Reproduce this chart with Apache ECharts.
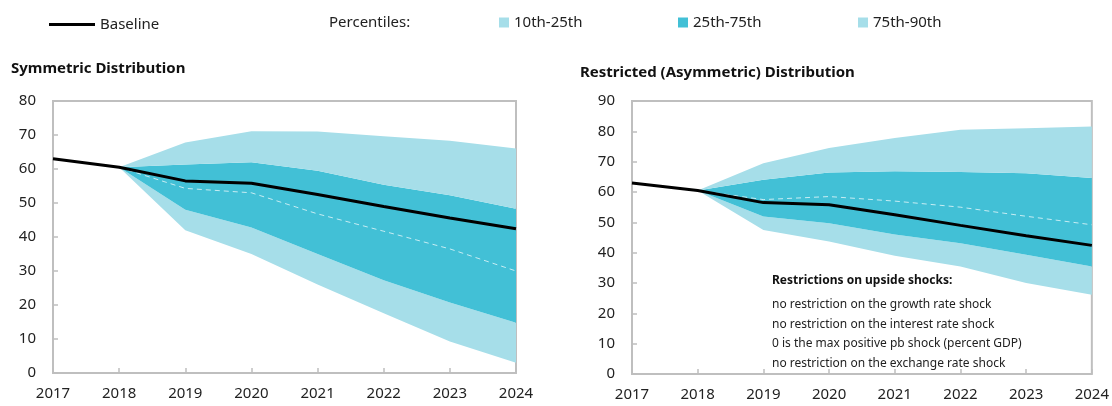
<!DOCTYPE html>
<html>
<head>
<meta charset="utf-8">
<script src="https://cdn.jsdelivr.net/npm/echarts@6/dist/echarts.min.js"></script>
<style>
  html, body { margin: 0; padding: 0; background: #fff; }
  #chart { width: 1112px; height: 406px; }
</style>
</head>
<body>
<div id="chart"></div>
<script>
// data
const years = ['2017', '2018', '2019', '2020', '2021', '2022', '2023', '2024'];
const baseline = [63, 60.5, 56.5, 55.8, 52.5, 49, 45.6, 42.4];

// symmetric distribution percentiles
const symP10 = ['-', 60.5, 42, 35, 26, 17.6, 9.3, 3];
const symP25 = ['-', 60.5, 48, 42.8, 35, 27.3, 20.7, 14.8];
const symP50 = ['-', 60.5, 54.3, 53, 46.8, 41.7, 36.5, 30];
const symP75 = ['-', 60.5, 61.3, 62, 59.5, 55.4, 52.3, 48.3];
const symP90 = ['-', 60.5, 67.8, 71.1, 71, 69.6, 68.3, 66];

// restricted (asymmetric) distribution percentiles
const resP10 = ['-', 60.5, 47.5, 43.7, 39, 35.4, 30, 26.1];
const resP25 = ['-', 60.5, 51.9, 49.7, 46, 43.1, 39.3, 35.4];
const resP50 = ['-', 60.5, 57.5, 58.5, 57, 55, 52, 49.2];
const resP75 = ['-', 60.5, 64, 66.4, 66.8, 66.6, 66.2, 64.6];
const resP90 = ['-', 60.5, 69.5, 74.5, 77.8, 80.5, 81, 81.6];

const symTicks = [0, 80, 10];
const resTicks = [0, 90, 10];

const restrictionTitle = 'Restrictions on upside shocks:';
const restrictionLines = [
  'no restriction on the growth rate shock',
  'no restriction on the interest rate shock',
  '0 is the max positive pb shock (percent GDP)',
  'no restriction on the exchange rate shock'
];

const LIGHT = '#a6dee9';
const DARK = '#42c0d6';
const FONT = 'Noto Sans';

const diff = (hi, lo) => hi.map((v, i) => (v === '-' || lo[i] === '-') ? '-' : +(v - lo[i]).toFixed(2));

const band = (name, data, idx, stack, color) => ({
  name: name,
  type: 'line',
  xAxisIndex: idx,
  yAxisIndex: idx,
  stack: stack,
  data: data,
  symbol: 'none',
  silent: true,
  itemStyle: { color: color },
  lineStyle: { width: 0 },
  areaStyle: color ? { color: color, opacity: 1 } : undefined
});

const panelSeries = (idx, p10, p25, p50, p75, p90) => [
  band('p10' + idx, p10, idx, 's' + idx, null),
  band('10th-25th', diff(p25, p10), idx, 's' + idx, LIGHT),
  band('25th-75th', diff(p75, p25), idx, 's' + idx, DARK),
  band('75th-90th', diff(p90, p75), idx, 's' + idx, LIGHT),
  {
    name: 'median' + idx,
    type: 'line',
    xAxisIndex: idx,
    yAxisIndex: idx,
    data: p50,
    symbol: 'none',
    silent: true,
    lineStyle: { color: '#ffffff', width: 1, type: [5, 4], opacity: 0.7 }
  },
  {
    name: 'Baseline',
    type: 'line',
    xAxisIndex: idx,
    yAxisIndex: idx,
    data: baseline,
    symbol: 'none',
    itemStyle: { color: '#000' },
    lineStyle: { color: '#000', width: 3 }
  }
];

const xAxis = (idx) => ({
  type: 'category',
  gridIndex: idx,
  data: years,
  boundaryGap: false,
  axisLine: { show: false },
  axisTick: { show: true, inside: true, length: 5, lineStyle: { color: '#bfbfbf', width: 1.5 } },
  axisLabel: { color: '#222', fontFamily: FONT, fontSize: 15, margin: 13 },
  splitLine: { show: false }
});

const yAxis = (idx, t) => ({
  type: 'value',
  gridIndex: idx,
  min: t[0],
  max: t[1],
  interval: t[2],
  axisLine: { show: false },
  axisTick: { show: true, inside: true, length: 5, lineStyle: { color: '#bfbfbf', width: 1.5 } },
  axisLabel: { color: '#222', fontFamily: FONT, fontSize: 15, margin: 17 },
  splitLine: { show: false }
});

const legendText = { color: '#222', fontFamily: FONT, fontSize: 15 };

const chart = echarts.init(document.getElementById('chart'));
chart.setOption({
  animation: false,
  backgroundColor: '#fff',
  title: [
    { text: 'Symmetric Distribution', left: 6, top: 56,
      textStyle: { fontFamily: FONT, fontSize: 15, fontWeight: 'bold', color: '#111' } },
    { text: 'Restricted (Asymmetric) Distribution', left: 575, top: 60,
      textStyle: { fontFamily: FONT, fontSize: 15, fontWeight: 'bold', color: '#111' } }
  ],
  legend: [
    { data: [{ name: 'Baseline', icon: 'rect' }], left: 44, top: 12, itemWidth: 46, itemHeight: 3, itemGap: 6,
      textStyle: legendText, selectedMode: false },
    { data: [{ name: '10th-25th', icon: 'rect' }], left: 494, top: 10, itemWidth: 10, itemHeight: 10,
      textStyle: legendText, selectedMode: false },
    { data: [{ name: '25th-75th', icon: 'rect' }], left: 673, top: 10, itemWidth: 10, itemHeight: 10,
      textStyle: legendText, selectedMode: false },
    { data: [{ name: '75th-90th', icon: 'rect' }], left: 853, top: 10, itemWidth: 10, itemHeight: 10,
      textStyle: legendText, selectedMode: false }
  ],
  graphic: [
    { type: 'text', left: 329, top: 15,
      style: { text: 'Percentiles:', fill: '#222', font: '15px "Noto Sans"' } },
    { type: 'text', left: 772, top: 275,
      style: { text: restrictionTitle, fill: '#111', font: 'bold 12px "Noto Sans"' } },
    { type: 'text', left: 772, top: 295,
      style: { text: restrictionLines.join('\n'), fill: '#222', font: '12px "Noto Sans"', lineHeight: 19.5 } }
  ],
  grid: [
    { left: 53, top: 101, width: 463, height: 272, show: true, borderColor: '#bfbfbf', borderWidth: 2 },
    { left: 632, top: 101, width: 460, height: 273, show: true, borderColor: '#bfbfbf', borderWidth: 2 }
  ],
  xAxis: [xAxis(0), xAxis(1)],
  yAxis: [yAxis(0, symTicks), yAxis(1, resTicks)],
  series: [
    ...panelSeries(0, symP10, symP25, symP50, symP75, symP90),
    ...panelSeries(1, resP10, resP25, resP50, resP75, resP90)
  ]
});
</script>
</body>
</html>
